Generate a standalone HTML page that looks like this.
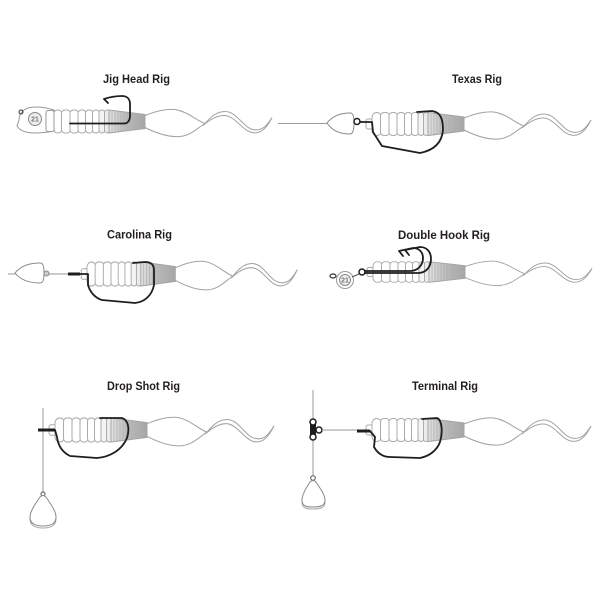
<!DOCTYPE html>
<html>
<head>
<meta charset="utf-8">
<style>
html,body{margin:0;padding:0;background:#fff;}
svg{display:block;}
.t{font-family:"Liberation Sans",sans-serif;font-weight:bold;font-size:12px;fill:#231f20;}
.ln{stroke:#9a9a9a;stroke-width:1;fill:none;}
.hk{stroke:#1e1e1e;stroke-width:1.8;fill:none;stroke-linecap:round;stroke-linejoin:round;}
.sk{fill:#fff;stroke:#8a8a8a;stroke-width:1;}
</style>
</head>
<body>
<svg width="600" height="600" viewBox="0 0 600 600" xmlns="http://www.w3.org/2000/svg">
<defs>
  <linearGradient id="gg" x1="0" y1="0" x2="1" y2="0">
    <stop offset="0" stop-color="#e2e2e2"/>
    <stop offset="0.45" stop-color="#bdbdbd"/>
    <stop offset="1" stop-color="#a6a6a6"/>
  </linearGradient>
  <g id="worm">
    <rect x="-6" y="-5" width="8" height="10" rx="2" fill="#fff" stroke="#aaa" stroke-width="1"/>
    <g fill="#fff" stroke="#ababab" stroke-width="1">
      <rect x="0" y="-11.5" width="9.5" height="23" rx="5"/>
      <rect x="8.5" y="-11.5" width="9" height="23" rx="3.5"/>
      <rect x="17" y="-11.5" width="8.5" height="23" rx="3.5"/>
      <rect x="25" y="-11.5" width="8" height="23" rx="3.5"/>
      <rect x="32.5" y="-11.5" width="7.5" height="23" rx="3.5"/>
      <rect x="39.5" y="-11.5" width="7" height="23" rx="3"/>
      <rect x="46" y="-11.5" width="6" height="23" rx="3" fill="#f4f4f4"/>
      <rect x="51.5" y="-11.5" width="5" height="23" rx="2.5" fill="#ececec"/>
    </g>
    <path d="M56,-11.5 L92,-7 L92,7 L56,11.5 Z" fill="url(#gg)" stroke="#a5a5a5" stroke-width="1"/>
    <g stroke="#a8a8a8" stroke-width="0.6">
      <line x1="59" y1="-11" x2="59" y2="11"/>
      <line x1="62" y1="-10.7" x2="62" y2="10.7"/>
      <line x1="65" y1="-10.3" x2="65" y2="10.3"/>
      <line x1="68" y1="-9.9" x2="68" y2="9.9"/>
      <line x1="71" y1="-9.5" x2="71" y2="9.5"/>
      <line x1="74" y1="-9.1" x2="74" y2="9.1"/>
      <line x1="77" y1="-8.8" x2="77" y2="8.8"/>
      <line x1="80" y1="-8.4" x2="80" y2="8.4"/>
      <line x1="83" y1="-8" x2="83" y2="8"/>
      <line x1="86" y1="-7.7" x2="86" y2="7.7"/>
      <line x1="89" y1="-7.3" x2="89" y2="7.3"/>
    </g>
    <g fill="none" stroke="#a2a2a2" stroke-width="1">
      <path d="M92,-6 C102,-10 112,-13 122,-12 C135,-10 143,-1 152,2"/>
      <path d="M92,6 C102,11 115,16 127,15 C138,14 145,6 152,2"/>
      <path d="M152,2 C158,-5 164,-10 172,-10 C184,-10 190,6 200,8 C209,10 214,4 219,-4"/>
      <path d="M150,4 C157,-2 164,-6 171,-6 C182,-6 189,9 199,11 C208,13 214,6 219,-4"/>
    </g>
  </g>
</defs>

<!-- Titles -->
<text class="t" x="136.5" y="83" text-anchor="middle" textLength="67" lengthAdjust="spacingAndGlyphs">Jig Head Rig</text>
<text class="t" x="477" y="83" text-anchor="middle" textLength="50" lengthAdjust="spacingAndGlyphs">Texas Rig</text>
<text class="t" x="139.5" y="238.5" text-anchor="middle" textLength="65" lengthAdjust="spacingAndGlyphs">Carolina Rig</text>
<text class="t" x="444" y="239" text-anchor="middle" textLength="92" lengthAdjust="spacingAndGlyphs">Double Hook Rig</text>
<text class="t" x="143.5" y="390" text-anchor="middle" textLength="73" lengthAdjust="spacingAndGlyphs">Drop Shot Rig</text>
<text class="t" x="445" y="390" text-anchor="middle" textLength="66" lengthAdjust="spacingAndGlyphs">Terminal Rig</text>

<!-- ===== Jig Head Rig ===== -->
<use href="#worm" transform="translate(53,121.5)"/>
<path d="M54,110 C45,107 35,106 28,108 C22,110 19,115 19,120 L17,126 C20,131 27,133 35,133 C43,133 49,132 54,131 Z" fill="#fff" stroke="#999" stroke-width="1"/>
<rect x="46" y="110.5" width="8" height="21" rx="2" fill="#fff" stroke="#999" stroke-width="1"/>
<circle cx="35" cy="119" r="6.5" fill="#eee" stroke="#888" stroke-width="1"/>
<text x="35" y="121.5" text-anchor="middle" font-family="Liberation Sans,sans-serif" font-size="7" font-weight="bold" fill="#777">21</text>
<circle cx="21" cy="112" r="2" fill="none" stroke="#333" stroke-width="1"/>
<path class="hk" d="M70,123.5 L124,123.5 C128,123.5 130,120 130,116 L130,104 C130,99 127,96 122,96 C115,96 110,97 104,99 M104,99 L108,103"/>
<line class="ln" x1="278" y1="123.5" x2="328" y2="123.5"/>

<!-- ===== Texas Rig ===== -->
<use href="#worm" transform="translate(372,124)"/>
<path class="sk" d="M327,123 C331,118 338,113 350,113 C353,113 354,116 354,123 C354,130 353,134 350,134 C338,134 331,129 327,123 Z"/>
<circle cx="357" cy="121.5" r="3" fill="none" stroke="#1e1e1e" stroke-width="1.5"/>
<path class="hk" d="M360,122 L372,122 L373,132 L382,146 L420,153 C435,150 442,142 443,130 C443,118 440,112 432,111 L417,112"/>

<!-- ===== Carolina Rig ===== -->
<line class="ln" x1="8" y1="274" x2="80" y2="274"/>
<use href="#worm" transform="translate(87,274) scale(0.96,1.05)"/>
<path class="sk" d="M15,273 C19,268 26,263 40,263 C43,263 44,266 44,273 C44,280 43,283 40,283 C26,283 19,278 15,273 Z"/>
<circle cx="46.5" cy="273.5" r="2.5" fill="#ccc" stroke="#888" stroke-width="1"/>
<line x1="68" y1="274" x2="80" y2="274" stroke="#1e1e1e" stroke-width="3"/>
<path class="hk" d="M78,274 L88,274 L88,285 C90,292 95,298 102,300 L135,303 C145,302 152,295 154,285 L154,270 C154,264 150,262 145,262 L133,263"/>

<!-- ===== Double Hook Rig ===== -->
<use href="#worm" transform="translate(373,272) scale(1,0.9)"/>
<circle cx="345" cy="280" r="8.5" fill="#fff" stroke="#999" stroke-width="1"/>
<circle cx="345" cy="280" r="5.5" fill="#eee" stroke="#888" stroke-width="1"/>
<text x="345" y="282.5" text-anchor="middle" font-family="Liberation Sans,sans-serif" font-size="7" font-weight="bold" fill="#777">21</text>
<ellipse cx="333" cy="276" rx="3" ry="2" fill="none" stroke="#333" stroke-width="1.2"/>
<line x1="352" y1="277" x2="359" y2="274" stroke="#555" stroke-width="1.2"/>
<circle cx="362" cy="272" r="3" fill="none" stroke="#1e1e1e" stroke-width="1.5"/>
<path class="hk" d="M365,273 L418,273 C426,273 431,267 431,259 C431,251 426,247 420,247 L405,250 M405,250 L409,255"/>
<path class="hk" d="M365,271 L410,271 C418,271 423,265 423,258 C423,252 419,248 413,248 L399,251 M399,251 L403,256" stroke-width="1.5"/>

<!-- ===== Drop Shot Rig ===== -->
<line class="ln" x1="43" y1="408" x2="43" y2="492"/>
<use href="#worm" transform="translate(55,430) scale(1,1.05)"/>
<line x1="38" y1="430" x2="55" y2="430" stroke="#1e1e1e" stroke-width="3"/>
<path class="hk" d="M55,430 L57,437 C58,445 62,452 70,456 L97,458 C110,457 122,450 127,438 C130,428 128,420 122,418 L100,418"/>
<circle cx="43" cy="494" r="2" fill="#fff" stroke="#555" stroke-width="1"/>
<path d="M40,499 C36,505 30,513 30,519 C30,526 36,528 43,528 C50,528 56,526 56,519 C56,513 50,505 46,499 C44,497 42,497 40,499 Z" fill="none" stroke="#aaa" stroke-width="1"/>
<path class="sk" d="M40,497 C36,503 30,511 30,517 C30,524 36,526 43,526 C50,526 56,524 56,517 C56,511 50,503 46,497 C44,495 42,495 40,497 Z"/>

<!-- ===== Terminal Rig ===== -->
<line class="ln" x1="313" y1="390" x2="313" y2="477"/>
<use href="#worm" transform="translate(372,430)"/>
<rect x="310" y="424" width="6" height="12" fill="#1e1e1e"/>
<circle cx="313" cy="422" r="3" fill="#fff" stroke="#1e1e1e" stroke-width="1.5"/>
<circle cx="313" cy="437" r="3" fill="#fff" stroke="#1e1e1e" stroke-width="1.5"/>
<circle cx="319" cy="430" r="3" fill="#fff" stroke="#1e1e1e" stroke-width="1.5"/>
<line class="ln" x1="322" y1="430" x2="357" y2="430"/>
<line x1="357" y1="431" x2="370" y2="431" stroke="#1e1e1e" stroke-width="3"/>
<path class="hk" d="M370,431 L375,437 L374,447 C378,454 384,457 390,457 L420,458 C430,456 437,450 440,442 C443,432 442,420 437,418 L422,419"/>
<circle cx="313" cy="478" r="2.3" fill="#fff" stroke="#555" stroke-width="1"/>
<path d="M310,484 C306,490 302,497 302,502 C302,508 306,509 313,509 C320,509 325,508 325,502 C325,497 320,490 316,484 C314,482 312,482 310,484 Z" fill="none" stroke="#aaa" stroke-width="1"/>
<path class="sk" d="M310,482 C306,488 302,495 302,500 C302,506 306,507 313,507 C320,507 325,506 325,500 C325,495 320,488 316,482 C314,480 312,480 310,482 Z"/>
</svg>
</body>
</html>
